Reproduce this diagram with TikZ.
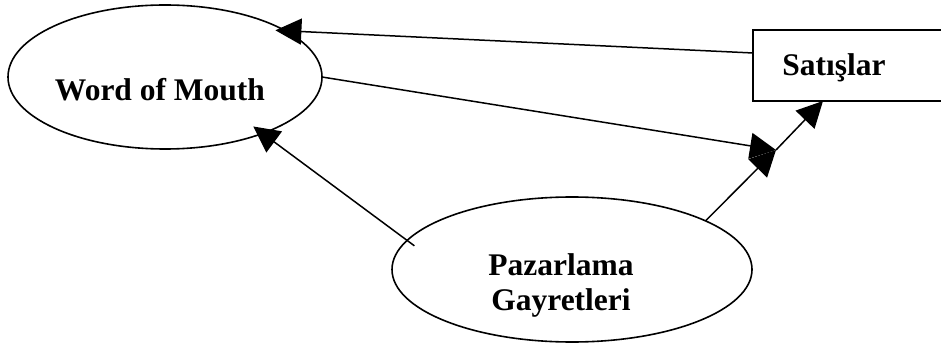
\documentclass[tikz,border=0pt]{standalone}
\usepackage{fontspec}
\setmainfont{Liberation Serif}
\usetikzlibrary{arrows.meta,shapes.geometric}
\begin{document}
\begin{tikzpicture}[x=1pt,y=-1pt,
  oval/.style={ellipse,draw,line width=1.6pt,inner sep=0pt,outer sep=0pt},
  box/.style={rectangle,draw,line width=1.4pt,inner sep=0pt,outer sep=0pt},
  lbl/.style={inner sep=0pt,font=\bfseries\fontsize{31.5}{35}\selectfont,align=center},
  arr/.style={line width=1.5pt,-{Triangle[length=26pt,width=26pt]}}]
  \useasboundingbox (0,0) rectangle (941,347);
  \fill[white] (0,0) rectangle (941,347);
  \clip (0,0) rectangle (941,347);

  % shapes
  \node[oval,minimum width=314pt,minimum height=144pt] (wom) at (165,77) {};
  \node[oval,minimum width=360pt,minimum height=145pt] (paz) at (572,269.5) {};
  \node[box,minimum width=207pt,minimum height=71pt] (sat) at (856.5,65.5) {};

  % labels
  \node[lbl,anchor=base] (womlbl) at (160,101) {Word of Mouth};
  \node[lbl,anchor=north] (pazlbl) at (561,253.5) {Pazarlama\\Gayretleri};
  \node[lbl,anchor=base] (satlbl) at (834,76) {Satışlar};

  % meeting point of the two influences on sales
  \coordinate (m) at (776,150);

  % connectors
  \draw[arr,shorten >=-10pt] ([yshift=12.5pt]sat.west) -- (wom.21.9);
  \draw[arr] (wom.east) -- (m);
  \draw[arr] (paz.20) -- (m);
  \draw[arr] (m) -- ([xshift=-33.5pt]sat.south);
  \draw[arr,shorten <=-9pt,shorten >=-11.6pt] (paz.170) -- (wom.-30.5);
\end{tikzpicture}
\end{document}
